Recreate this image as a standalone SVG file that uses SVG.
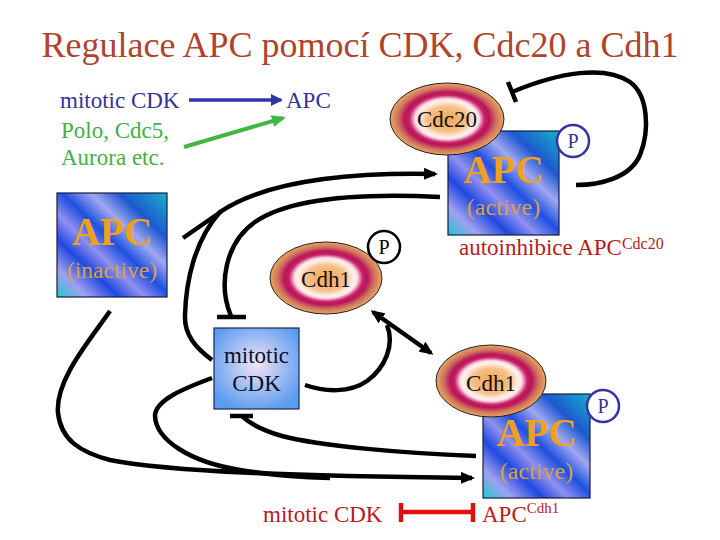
<svg xmlns="http://www.w3.org/2000/svg" width="720" height="540" viewBox="0 0 720 540" font-family="'Liberation Serif', 'Times New Roman', Times, 'DejaVu Serif', serif">
<style>
text{font-family:'Liberation Serif','Times New Roman',Times,'DejaVu Serif',serif}
.t{fill:#B0442A;font-size:36px}
.blue{fill:#333399;font-size:23px}
.green{fill:#44B044;font-size:23px}
.apc{fill:#F0A020;font-size:39px;font-weight:bold;text-anchor:middle}
.act{fill:#D8A048;font-size:24px;text-anchor:middle}
.lbl{fill:#111;font-size:23px;text-anchor:middle}
.red{fill:#B81C1C;font-size:23px}
.sup{font-size:16px}
.con{fill:none;stroke:#000;stroke-width:4.5;stroke-linecap:butt}
.box{stroke:#1A1A40;stroke-width:1.2}
.ell{fill:url(#eg);stroke:#222;stroke-width:1}
.pn{fill:#fff;stroke:#3333AA;stroke-width:2.5}
.pb{fill:#fff;stroke:#000;stroke-width:2.5}
.ptxt{font-size:20px;text-anchor:middle}
</style>
<defs>
<linearGradient id="ag" x1="0" y1="1" x2="1" y2="0">
<stop offset="0" stop-color="#20C8D0"/>
<stop offset="0.14" stop-color="#A0A0F0"/>
<stop offset="0.28" stop-color="#2048E0"/>
<stop offset="0.4" stop-color="#9090F0"/>
<stop offset="0.52" stop-color="#1E50E0"/>
<stop offset="0.65" stop-color="#A0A8F0"/>
<stop offset="0.78" stop-color="#1E58D0"/>
<stop offset="1" stop-color="#18B0C8"/>
</linearGradient>
<radialGradient id="eg" cx="0.5" cy="0.5" r="0.5">
<stop offset="0" stop-color="#F3A850"/>
<stop offset="0.35" stop-color="#F6C088"/>
<stop offset="0.5" stop-color="#FFF0EC"/>
<stop offset="0.56" stop-color="#FBE0E4"/>
<stop offset="0.66" stop-color="#C8206A"/>
<stop offset="0.74" stop-color="#B81458"/>
<stop offset="0.86" stop-color="#D07060"/>
<stop offset="1" stop-color="#E8A860"/>
</radialGradient>
<radialGradient id="cg" cx="0.5" cy="0.45" r="0.6">
<stop offset="0" stop-color="#F4E4F4"/>
<stop offset="1" stop-color="#5A9CF0"/>
</radialGradient>
<marker id="ah" markerUnits="userSpaceOnUse" markerWidth="14" markerHeight="12" refX="11" refY="6" orient="auto-start-reverse">
<path d="M0,0 L14,6 L0,12 z" fill="#000"/>
</marker>
<marker id="ahb" markerUnits="userSpaceOnUse" markerWidth="12" markerHeight="12" refX="10" refY="6" orient="auto">
<path d="M0,0 L12,6 L0,12 z" fill="#3333AA"/>
</marker>
<marker id="ahg" markerUnits="userSpaceOnUse" markerWidth="14" markerHeight="12" refX="11" refY="6" orient="auto">
<path d="M0,0 L14,6 L0,12 z" fill="#40B840"/>
</marker>
</defs>
<rect width="720" height="540" fill="#fff"/>
<text class="t" x="360" y="57" text-anchor="middle">Regulace APC pomocí CDK, Cdc20 a Cdh1</text>
<g id="legend">
<text class="blue" x="60" y="108">mitotic CDK</text>
<text class="blue" x="286" y="108">APC</text>
<text class="green" x="61" y="138">Polo, Cdc5,</text>
<text class="green" x="61" y="165">Aurora etc.</text>
<path d="M189,100 L281,100" stroke="#3333AA" stroke-width="3.5" fill="none" marker-end="url(#ahb)"/>
<path d="M184,147 L283,118" stroke="#40B840" stroke-width="4" fill="none" marker-end="url(#ahg)"/>
</g>
<g id="connectors">
<path class="con" d="M212,360 C196,348 184,335 185,315 C186,280 195,240 220,212 C260,185 330,172 435,174" marker-end="url(#ah)"/>
<path class="con" d="M183,238 L222,211"/>
<path class="con" d="M440,197 C360,193 290,198 255,222 C225,243 218,285 231,316"/>
<path class="con" d="M217,317 L246,317"/>
<path class="con" d="M110,311 C90,340 55,380 58,413 C61,440 80,452 110,460 C170,472 300,476 472,478" marker-end="url(#ah)"/>
<path class="con" d="M212,378 C185,388 155,400 155,416 C156,440 190,462 240,470 C270,475 300,477 330,478"/>
<path class="con" d="M476,456 C400,453 320,446 282,436 C258,429 246,420 242,416"/>
<path class="con" d="M230,416 L253,416"/>
<path class="con" d="M305,385 C325,392 350,393 367,381 C385,368 395,345 387,325"/>
<path class="con" d="M373,312 L431,353" marker-start="url(#ah)" marker-end="url(#ah)"/>
<path class="con" d="M576,185 C600,185 630,178 640,155 C650,130 648,95 630,82 C605,65 560,72 512,92"/>
<path class="con" d="M508,82 L516,102"/>
<path d="M401,512 L473,512 M401,503 L401,522 M473,503 L473,522" stroke="#E01010" stroke-width="4.5" fill="none"/>
</g>
<g id="apc-inactive">
<rect class="box" x="57" y="193" width="110" height="104" fill="url(#ag)"/>
<text class="apc" x="112" y="245">APC</text>
<text class="act" x="112" y="278" style="font-size:23.5px">(inactive)</text>
</g>
<g id="apc-cdc20">
<rect class="box" x="448" y="131" width="111" height="104" fill="url(#ag)"/>
<text class="apc" x="503.5" y="183">APC</text>
<text class="act" x="503.5" y="215">(active)</text>
<ellipse class="ell" cx="447" cy="119" rx="57" ry="36"/>
<text class="lbl" x="447" y="127">Cdc20</text>
<circle class="pn" cx="573" cy="141" r="16"/>
<text class="ptxt" x="573" y="148" fill="#333399">P</text>
</g>
<g id="autoinhibice">
<text class="red" x="459" y="255" fill="#B22020">autoinhibice APC<tspan class="sup" dy="-6">Cdc20</tspan></text>
</g>
<g id="cdh1-p">
<ellipse class="ell" cx="326" cy="278" rx="56" ry="36"/>
<text class="lbl" x="326" y="287">Cdh1</text>
<circle class="pb" cx="384" cy="247" r="16"/>
<text class="ptxt" x="384" y="254" fill="#000">P</text>
</g>
<g id="mitotic-cdk">
<rect x="214" y="328" width="85" height="81" fill="url(#cg)" stroke="#1C2850" stroke-width="1.2"/>
<text class="lbl" x="256.5" y="363" style="fill:#0A1030">mitotic</text>
<text class="lbl" x="256.5" y="391" style="fill:#0A1030">CDK</text>
</g>
<g id="apc-cdh1">
<rect class="box" x="483" y="394" width="107" height="104" fill="url(#ag)"/>
<text class="apc" x="536.5" y="446">APC</text>
<text class="act" x="536.5" y="479">(active)</text>
<ellipse class="ell" cx="491" cy="381" rx="55" ry="36"/>
<text class="lbl" x="491" y="391">Cdh1</text>
<circle class="pn" cx="603" cy="406" r="16"/>
<text class="ptxt" x="603" y="413" fill="#333399">P</text>
</g>
<g id="bottom-labels">
<text class="red" x="263" y="522" fill="#CC1111">mitotic CDK</text>
<text class="red" x="482" y="522" fill="#CC1111">APC<tspan class="sup" dy="-9" style="font-size:15px">Cdh1</tspan></text>
</g>
</svg>
